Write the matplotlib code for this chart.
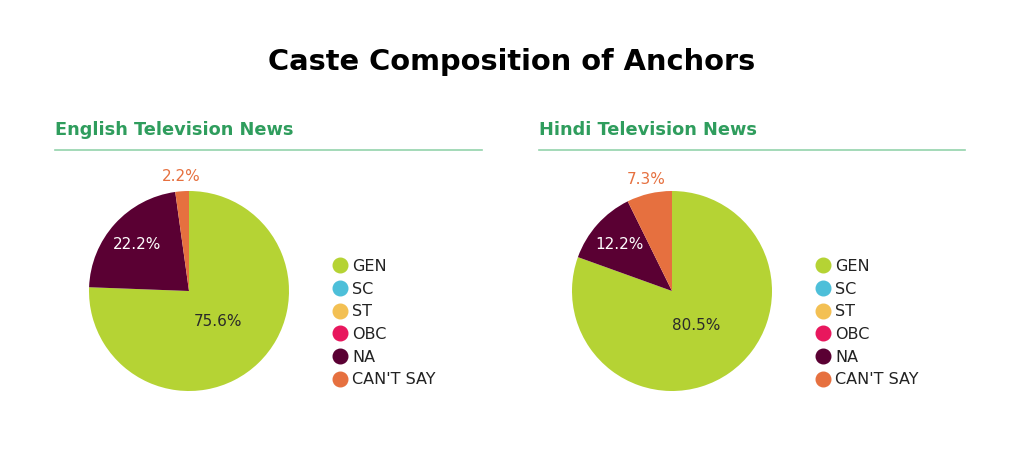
import matplotlib
matplotlib.use("Agg")
import matplotlib.pyplot as plt
from matplotlib.lines import Line2D
import numpy as np

categories = ["GEN", "SC", "ST", "OBC", "NA", "CAN'T SAY"]
english_values = [75.6, 0, 0, 0, 22.2, 2.2]
hindi_values = [80.5, 0, 0, 0, 12.2, 7.3]
panel_titles = ["English Television News", "Hindi Television News"]
main_title = "Caste Composition of Anchors"

colors = ["#b5d334", "#4dbfd9", "#f3c053", "#e8175d", "#5a0033", "#e6703f"]
# label radius (fraction of pie radius) and text colour per category
label_r = [0.42, 0.6, 0.6, 0.6, 0.70, 1.15]
label_c = ["#2a2a2a", "white", "white", "white", "white", "#e6703f"]

W, H = 1023, 454
fig = plt.figure(figsize=(W / 100, H / 100), dpi=100)
fig.patch.set_facecolor("white")
FONT = "DejaVu Sans"

def fx(x):
    return x / W

def fy(y):
    return 1 - y / H

fig.text(0.5, fy(62), main_title, ha="center", va="center", fontsize=20.8,
         fontweight="bold", family=FONT, color="black")

panels = [
    dict(vals=english_values, title=panel_titles[0], tx=55, lx0=55, lx1=482, cx=189, legx=340),
    dict(vals=hindi_values, title=panel_titles[1], tx=539, lx0=539, lx1=965, cx=672, legx=823),
]

green = "#2f9d5d"
line_green = "#93d3ac"
R = 100
cy = 291

for p in panels:
    fig.text(fx(p["tx"]), fy(130), p["title"], ha="left", va="center", fontsize=12.8,
             fontweight="bold", family=FONT, color=green)
    fig.add_artist(Line2D([fx(p["lx0"]), fx(p["lx1"])], [fy(150), fy(150)],
                          transform=fig.transFigure, color=line_green, lw=1.2))
    ax = fig.add_axes([fx(p["cx"] - R), fy(cy + R), 2 * R / W, 2 * R / H])
    wedges, _ = ax.pie(p["vals"], colors=colors, startangle=90, counterclock=False,
                       radius=1.0, wedgeprops=dict(linewidth=0))
    ax.set_xlim(-1, 1)
    ax.set_ylim(-1, 1)
    ax.set_aspect("equal")
    ax.axis("off")
    for w, v, r, c in zip(wedges, p["vals"], label_r, label_c):
        if v <= 0:
            continue
        mid = np.deg2rad((w.theta1 + w.theta2) / 2)
        ax.text(r * np.cos(mid), r * np.sin(mid), f"{v:.1f}%", ha="center", va="center",
                fontsize=11, family=FONT, color=c, clip_on=False)
    handles = [Line2D([], [], marker="o", linestyle="none", markersize=10.5,
                      markerfacecolor=col, markeredgecolor=col) for col in colors]
    leg = fig.legend(handles, categories, loc="center left",
                     bbox_to_anchor=(fx(p["legx"] - 7), fy(323)),
                     frameon=False, prop=dict(family=FONT, size=11.5),
                     handletextpad=0.3, labelspacing=0.48, handlelength=0.9,
                     borderaxespad=0, borderpad=0)
    for t in leg.get_texts():
        t.set_color("#222222")

fig.savefig("out.png", dpi=100, facecolor="white")
